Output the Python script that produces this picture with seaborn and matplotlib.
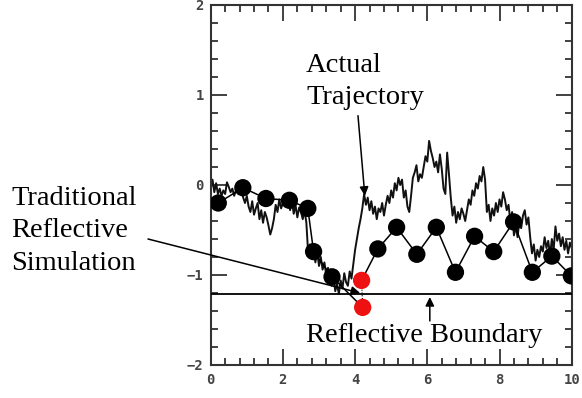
import numpy as np
import pandas as pd
import seaborn as sns
import matplotlib
matplotlib.use("Agg")
import matplotlib.pyplot as plt
from matplotlib.ticker import MultipleLocator

# Fine-grained "actual" trajectory, sampled every 0.05 from t=0 to t=10
traj_t = [round(0.05 * i, 2) for i in range(201)]
traj_y = [
    -0.05, 0.06, -0.08, 0.02, -0.10, -0.04, -0.12, -0.06, -0.10, 0.03, -0.02,
    -0.08, -0.04, -0.12, -0.06, -0.03, -0.10, -0.05, -0.14, -0.20, -0.12,
    -0.24, -0.30, -0.18, -0.33, -0.26, -0.20, -0.38, -0.28, -0.42, -0.30,
    -0.36, -0.45, -0.55, -0.48, -0.38, -0.22, -0.30, -0.16, -0.26, -0.20,
    -0.12, -0.24, -0.16, -0.28, -0.18, -0.32, -0.22, -0.36, -0.25, -0.30,
    -0.38, -0.28, -0.42, -0.76, -0.66, -0.82, -0.72, -0.86, -0.74, -0.90,
    -0.80, -0.94, -0.86, -1.00, -0.92, -1.06, -1.12, -1.02, -1.18, -1.10,
    -1.21, -1.06, -1.15, -0.98, -1.08, -1.12, -0.96, -1.04, -0.88, -0.72,
    -0.60, -0.48, -0.38, -0.26, -0.10, -0.22, -0.14, -0.28, -0.18, -0.32,
    -0.24, -0.38, -0.26, -0.30, -0.20, -0.34, -0.22, -0.12, -0.20, -0.06,
    -0.14, 0.02, -0.06, 0.08, 0.00, 0.06, -0.14, -0.06, -0.24, -0.30,
    -0.12, 0.08, 0.14, 0.22, 0.04, 0.12, 0.08, 0.20, 0.32, 0.26,
    0.49, 0.38, 0.30, 0.20, 0.26, 0.14, 0.34, 0.18, -0.04, -0.10,
    0.36, 0.12, -0.14, -0.34, -0.24, -0.42, -0.30, -0.38, -0.26, -0.32,
    -0.40, -0.28, -0.16, -0.22, -0.06, -0.12, 0.02, -0.04, 0.10, 0.04,
    0.20, 0.06, -0.30, -0.22, -0.40, -0.26, -0.34, -0.20, -0.30, -0.16,
    -0.24, -0.08, -0.16, -0.28, -0.22, -0.40, -0.30, -0.56, -0.46, -0.58,
    -0.40, -0.48, -0.34, -0.28, -0.44, -0.36, -0.58, -0.76, -0.66, -0.84,
    -0.72, -0.80, -0.68, -0.74, -0.58, -0.70, -0.62, -0.78, -0.60, -0.72,
    -0.46, -0.62, -0.54, -0.68, -0.58, -0.72, -0.62, -0.76, -0.64, -0.70,
]

# Coarse simulation before the boundary crossing
sim_before_t = [0.21, 0.89, 1.53, 2.18, 2.69, 2.85, 3.36]
sim_before_y = [-0.20, -0.03, -0.15, -0.17, -0.26, -0.74, -1.02]

# Step that crosses the boundary and its reflected position
cross_t = [4.21, 4.18]
cross_y = [-1.36, -1.06]

# Coarse simulation after the reflection
sim_after_t = [4.63, 5.15, 5.71, 6.25, 6.78, 7.31, 7.84, 8.39, 8.91, 9.45, 9.99]
sim_after_y = [-0.71, -0.47, -0.77, -0.47, -0.97, -0.57, -0.74, -0.41, -0.97, -0.79, -1.01]

boundary = -1.215

sns.set_theme(style="ticks")
plt.rcParams["font.family"] = ["DejaVu Sans"]

W, H = 582, 398
fig = plt.figure(figsize=(W / 100, H / 100), dpi=100)
ax = fig.add_axes([210.7 / W, 1 - 365 / H, 361 / W, 360 / H])

traj = pd.DataFrame({"t": traj_t, "y": traj_y})
sns.lineplot(data=traj, x="t", y="y", ax=ax, color="#111111", lw=1.4,
             estimator=None, sort=False, zorder=2)

path1 = pd.DataFrame({"t": sim_before_t + [cross_t[0]],
                      "y": sim_before_y + [cross_y[0]]})
path2 = pd.DataFrame({"t": [cross_t[1]] + sim_after_t,
                      "y": [cross_y[1]] + sim_after_y})
for p in (path1, path2):
    sns.lineplot(data=p, x="t", y="y", ax=ax, color="black", lw=1.1,
                 estimator=None, sort=False, zorder=3)

# dotted link between crossing point and its reflection
ax.plot(cross_t, cross_y, ls=(0, (1, 1.5)), color="black", lw=0.8, zorder=3)

dots = pd.DataFrame({"t": sim_before_t + sim_after_t,
                     "y": sim_before_y + sim_after_y})
sns.scatterplot(data=dots, x="t", y="y", ax=ax, color="black", s=155,
                edgecolor="none", zorder=4)
red = pd.DataFrame({"t": cross_t, "y": cross_y})
sns.scatterplot(data=red, x="t", y="y", ax=ax, color="#ee1111", s=155,
                edgecolor="none", zorder=5)

ax.axhline(boundary, color="black", lw=1.3, zorder=3)

ax.set_xlim(0, 10)
ax.set_ylim(-2, 2)
ax.set_xlabel("")
ax.set_ylabel("")
ax.xaxis.set_major_locator(MultipleLocator(2))
ax.xaxis.set_minor_locator(MultipleLocator(0.4))
ax.yaxis.set_major_locator(MultipleLocator(1))
ax.yaxis.set_minor_locator(MultipleLocator(0.2))
ax.tick_params(which="both", direction="in", top=True, right=True,
               color="#333333", width=1.3)
ax.tick_params(which="major", length=11.5)
ax.tick_params(which="minor", length=4.7)
ax.tick_params(axis="x", pad=6)
ax.tick_params(axis="y", pad=5)
for lab in ax.get_xticklabels() + ax.get_yticklabels():
    lab.set_family("DejaVu Sans Mono")
    lab.set_fontsize(10)
    lab.set_fontweight("bold")
    lab.set_color("#444444")
for s in ax.spines.values():
    s.set_color("#333333")
    s.set_linewidth(1.5)

serif = "Liberation Serif"
fs = 20.5


def ftext(x, y, s):
    fig.text(x / W, 1 - y / H, s, fontsize=fs, family=serif,
             va="baseline", ha="left", color="black")


ftext(306, 72, "Actual")
ftext(306, 104, "Trajectory")
ftext(11, 205, "Traditional")
ftext(11, 237, "Reflective")
ftext(11, 270, "Simulation")
ftext(306, 342, "Reflective Boundary")

arrow = dict(arrowstyle="-|>", color="black", lw=1.1, mutation_scale=13,
             shrinkA=0, shrinkB=0)
ax.annotate("", xy=(4.27, -0.12), xytext=(4.08, 0.77),
            arrowprops=arrow, annotation_clip=False)
ax.annotate("", xy=(4.14, -1.2), xytext=(148, H - 239),
            textcoords="figure pixels", arrowprops=arrow,
            annotation_clip=False)
ax.annotate("", xy=(6.07, -1.245), xytext=(6.07, -1.51),
            arrowprops=arrow, annotation_clip=False)

fig.savefig("out.png", dpi=100, facecolor="white")
